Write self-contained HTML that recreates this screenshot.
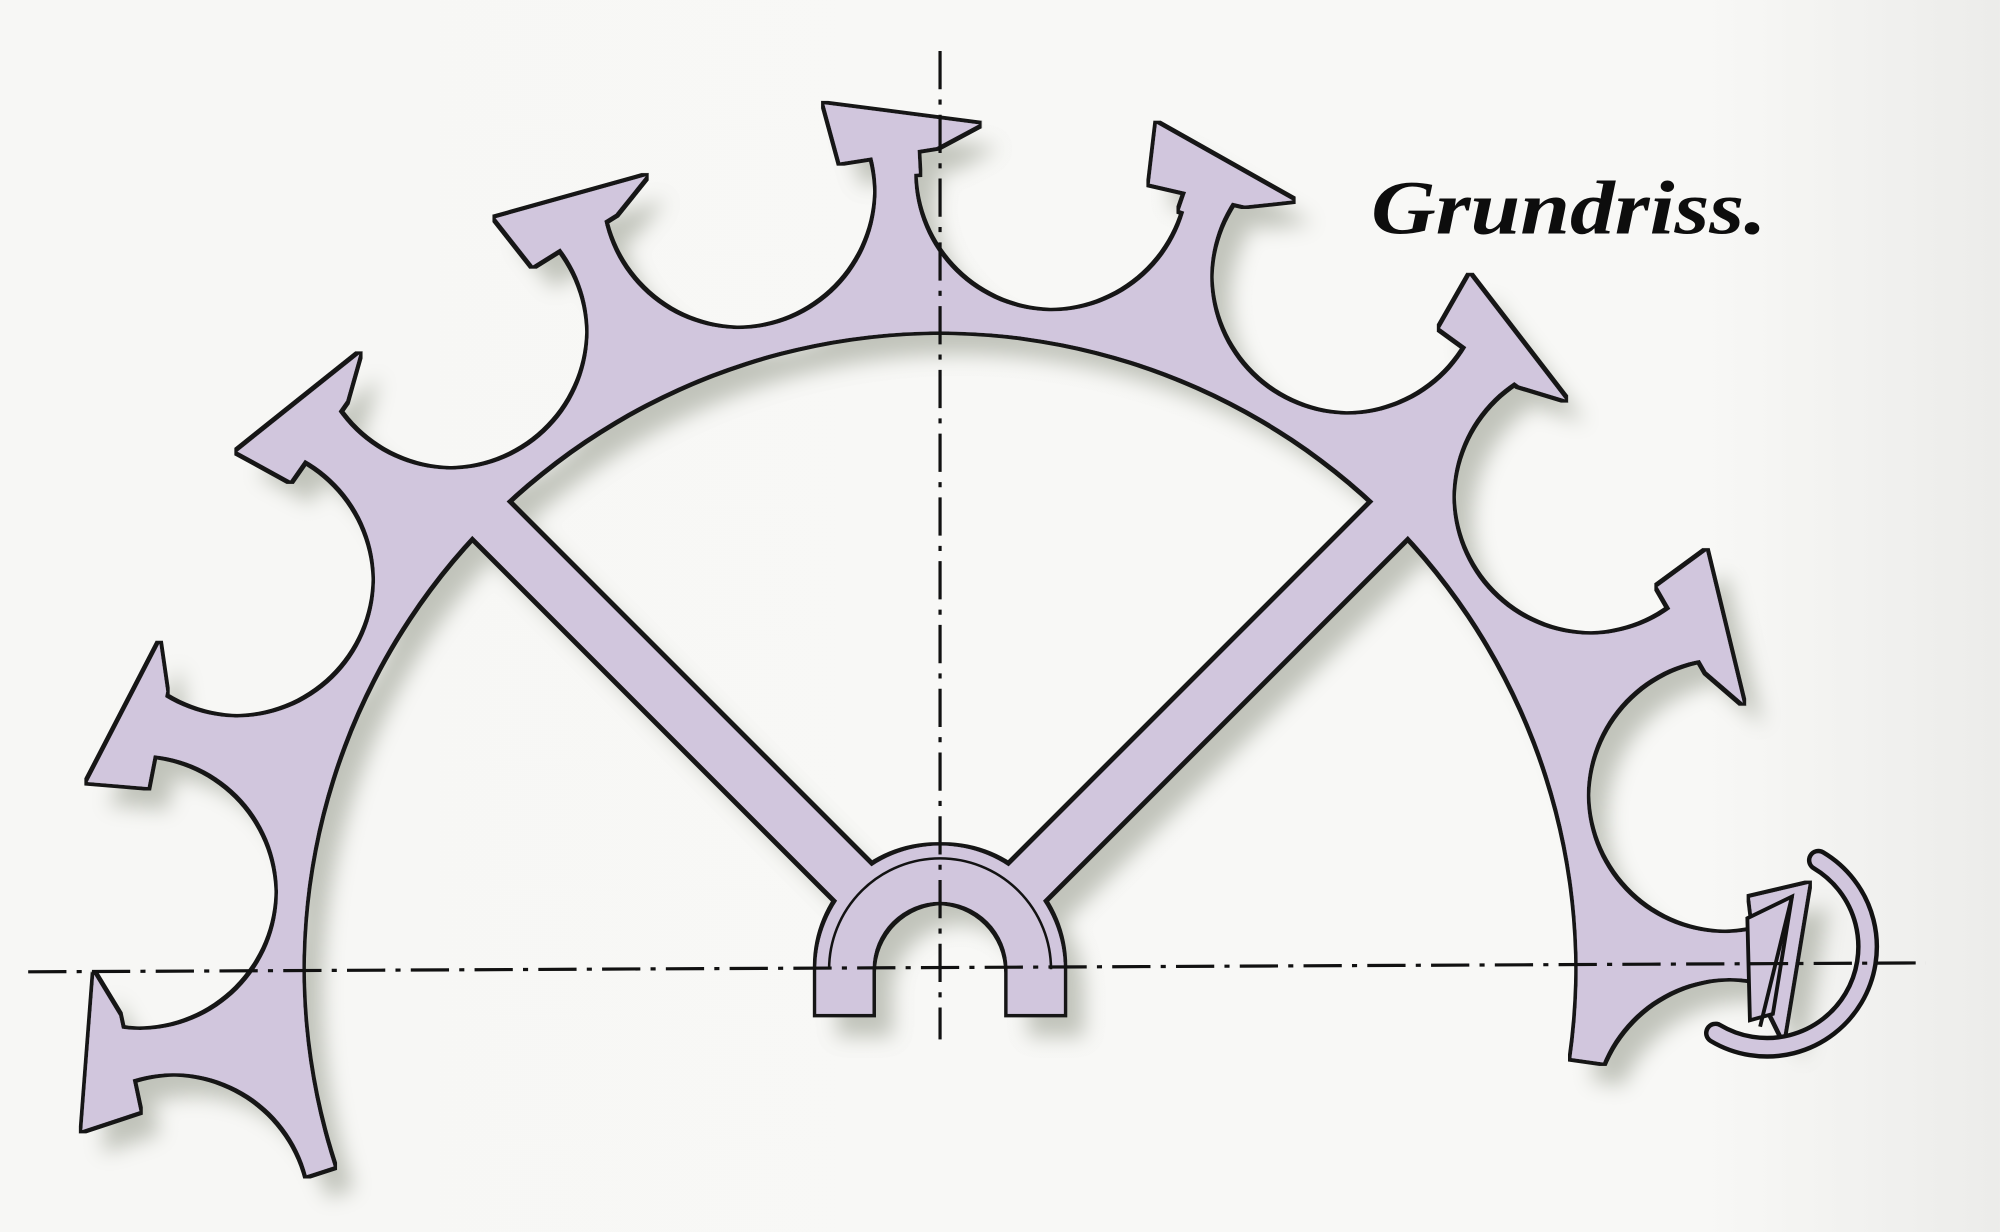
<!DOCTYPE html>
<html><head><meta charset="utf-8"><style>
html,body{margin:0;padding:0;background:#f6f6f3;}
svg{display:block;}
</style></head><body>
<svg width="2000" height="1232" viewBox="0 0 1568 966" xmlns="http://www.w3.org/2000/svg">
<defs>
<linearGradient id="bg" x1="0" y1="0" x2="1" y2="0">
<stop offset="0" stop-color="#f7f7f5"/><stop offset="0.85" stop-color="#f8f8f6"/><stop offset="1" stop-color="#ececea"/>
</linearGradient>
<mask id="rm" maskUnits="userSpaceOnUse" x="0" y="0" width="1568" height="966">
<path d="M118.8,960.9 A650,650 0 1 1 1380.7,850.5 L1232.1,829.6 A500,500 0 1 0 261.5,914.5 Z" fill="#fff"/>
<g fill="#000">
<circle cx="737" cy="130" r="108" transform="rotate(-107.5 737 760)"/>
<circle cx="737" cy="130" r="108" transform="rotate(-84.5 737 760)"/>
<circle cx="737" cy="130" r="108" transform="rotate(-61 737 760)"/>
<circle cx="737" cy="130" r="108" transform="rotate(-37.5 737 760)"/>
<circle cx="737" cy="130" r="108" transform="rotate(-14.5 737 760)"/>
<circle cx="737" cy="130" r="108" transform="rotate(8 737 760)"/>
<circle cx="737" cy="130" r="108" transform="rotate(30.5 737 760)"/>
<circle cx="737" cy="130" r="108" transform="rotate(54 737 760)"/>
<circle cx="737" cy="130" r="108" transform="rotate(77.5 737 760)"/>
<circle cx="737" cy="130" r="108" transform="rotate(100.5 737 760)"/>
</g>
</mask>
<g id="tooth">
<polygon points="682,78 802,100 768,116 692,124"/>
<rect x="721" y="110" width="32" height="26"/>
</g>
<g id="shape">
<rect x="0" y="0" width="1568" height="966" mask="url(#rm)"/>
<use href="#tooth" transform="rotate(-96 737 760)"/>
<use href="#tooth" transform="rotate(-73 737 760)"/>
<use href="#tooth" transform="rotate(-49 737 760)"/>
<use href="#tooth" transform="rotate(-26 737 760)"/>
<use href="#tooth" transform="rotate(-3 737 760)"/>
<use href="#tooth" transform="rotate(19 737 760)"/>
<use href="#tooth" transform="rotate(42 737 760)"/>
<use href="#tooth" transform="rotate(66 737 760)"/>
<use href="#tooth" transform="rotate(89 737 760)"/>
<rect x="718" y="250" width="38" height="450" transform="rotate(-45 737 760)"/>
<rect x="718" y="250" width="38" height="450" transform="rotate(45 737 760)"/>
<path d="M640,795 L640,760 A97,97 0 0 1 834,760 L834,795 L790,795 L790,760 A53,53 0 0 0 684,760 L684,795 Z"/>
</g>
<filter id="ol" x="-5%" y="-5%" width="110%" height="110%">
<feMorphology in="SourceAlpha" operator="dilate" radius="2.8" result="d"/>
<feFlood flood-color="#121212"/>
<feComposite in2="d" operator="in" result="o"/>
<feFlood flood-color="#d1c6dd"/>
<feComposite in2="SourceAlpha" operator="in" result="f"/>
<feMerge><feMergeNode in="o"/><feMergeNode in="f"/></feMerge>
</filter>
<filter id="sh" x="-5%" y="-5%" width="115%" height="115%">
<feOffset in="SourceAlpha" dx="16" dy="18"/>
<feGaussianBlur stdDeviation="8"/>
<feColorMatrix type="matrix" values="0 0 0 0 0.40  0 0 0 0 0.42  0 0 0 0 0.36  0 0 0 0.7 0"/>
</filter>
</defs>
<rect width="1568" height="966" fill="url(#bg)"/>
<use href="#shape" filter="url(#sh)"/>
<use href="#shape" filter="url(#ol)"/>
<path d="M650,760 A87,87 0 0 1 824,760" fill="none" stroke="#121212" stroke-width="2"/>
<path d="M1425.7,674.5 A75,75 0 1 1 1345,810" fill="none" stroke="#121212" stroke-width="18" stroke-linecap="round"/>
<path d="M1425.7,674.5 A75,75 0 1 1 1345,810" fill="none" stroke="#d1c6dd" stroke-width="11" stroke-linecap="round"/>
<polygon points="1370,720 1405,703 1390,795 1372,800" fill="#d1c6dd" stroke="#121212" stroke-width="3"/>
<line x1="1405" y1="703" x2="1380" y2="805" stroke="#121212" stroke-width="3"/>
<line x1="737" y1="40" x2="737" y2="815" stroke="#111" stroke-width="2.5" stroke-dasharray="30,8,4,8"/>
<line x1="22" y1="762" x2="1510" y2="755" stroke="#111" stroke-width="2.5" stroke-dasharray="30,8,4,8"/>
<text x="1075" y="183" font-family="Liberation Serif, serif" font-style="italic" font-weight="bold" font-size="60" fill="#0d0d0d" textLength="310" lengthAdjust="spacingAndGlyphs">Grundriss.</text>
</svg>
</body></html>
